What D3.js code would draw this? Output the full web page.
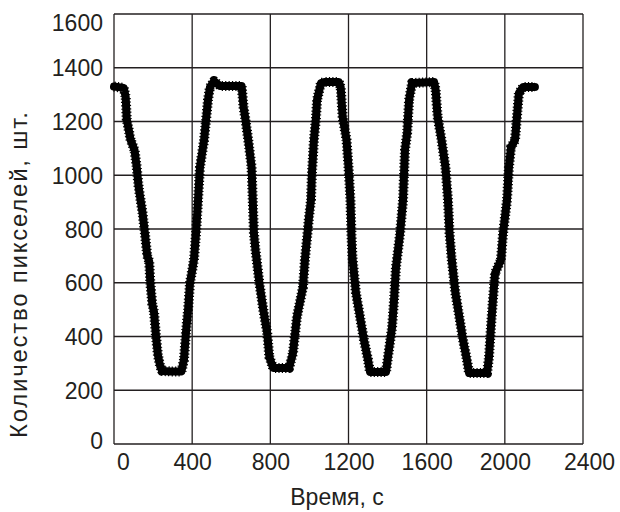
<!DOCTYPE html>
<html><head><meta charset="utf-8">
<script src="https://cdn.jsdelivr.net/npm/d3@7"></script>
<style>
html,body{margin:0;padding:0;background:#fff;}
svg text{font-family:"Liberation Sans",Arial,Helvetica,sans-serif;fill:#231f20;}
</style></head>
<body>
<script>
// ---- data ----
const xTicks = [0, 400, 800, 1200, 1600, 2000, 2400];
const yTicks = [0, 200, 400, 600, 800, 1000, 1200, 1400, 1600];
const xTitle = "Время, с";
const yTitle = "Количество пикселей, шт.";
const time = [0,50,60,65,85,105,116,126,136,146,158,170,180,186,196,205,215,225,236,246,290,345,
  358,368,379,389,409,420,430,440,461,471,481,491,512,542,653,
  655,663,673,689,704,710,716,724,744,764,784,795,814,896,
  916,936,967,977,998,1008,1013,1023,1034,1039,1059,1080,1151,
  1160,1170,1190,1200,1210,1215,1220,1238,1259,1279,1300,1310,1392,
  1402,1423,1433,1443,1464,1479,1489,1500,1510,1525,1638,
  1646,1656,1676,1696,1709,1717,1727,1747,1767,1786,1806,1817,1909,
  1919,1929,1939,1950,1980,1991,2011,2021,2032,2052,2062,2072,2093,2154];
const pixels = [1330,1325,1290,1210,1131,1094,1032,957,908,860,785,700,680,600,520,490,400,330,290,272,270,270,
  313,413,499,599,685,785,908,1031,1131,1206,1280,1328,1351,1332,1332,
  1317,1254,1206,1120,1031,908,785,722,599,499,413,324,283,283,
  339,473,584,685,845,908,1008,1131,1217,1280,1343,1347,1347,
  1328,1217,1131,1031,908,785,696,562,473,387,313,268,268,
  324,435,536,659,785,908,1094,1157,1280,1343,1347,
  1317,1217,1131,1031,908,785,696,562,473,387,313,264,264,
  324,435,536,636,685,785,908,1031,1105,1131,1217,1306,1328,1328];

// ---- layout ----
const W = 620, H = 512;
const m = {left:114, right:37, top:14, bottom:68};
const svg = d3.select("body").append("svg").attr("width", W).attr("height", H);
const x = d3.scaleLinear().domain([0, 2400]).range([m.left, W - m.right]);
const y = d3.scaleLinear().domain([0, 1600]).range([H - m.bottom, m.top]);

// grid
const g = svg.append("g");
g.selectAll("line.v").data(xTicks).join("line")
  .attr("x1", d => x(d)).attr("x2", d => x(d)).attr("y1", y(0)).attr("y2", y(1600))
  .attr("stroke", "#231f20").attr("stroke-width", 1.3);
g.selectAll("line.h").data(yTicks).join("line")
  .attr("y1", d => y(d)).attr("y2", d => y(d)).attr("x1", x(0)).attr("x2", x(2400))
  .attr("stroke", "#231f20").attr("stroke-width", 1.3);

// axes (labels only)
const xAxis = d3.axisBottom(x).tickValues(xTicks).tickSize(0).tickPadding(0).tickFormat(d3.format("d"));
const ax = svg.append("g").attr("transform", `translate(0,${y(0)})`).call(xAxis);
ax.select(".domain").remove();
ax.selectAll("text").attr("font-size", 23).attr("y", 0).attr("dy", 0)
  .attr("transform", d => `translate(${d === 0 ? 9 : (d === 2400 ? 6 : 0)},26)`);

const yAxis = d3.axisLeft(y).tickValues(yTicks).tickSize(0).tickPadding(0).tickFormat(d3.format("d"));
const ay = svg.append("g").attr("transform", `translate(${x(0) - 11},0)`).call(yAxis);
ay.select(".domain").remove();
ay.selectAll("text").attr("font-size", 23).attr("x", 0).attr("dy", "0.35em")
  .attr("transform", d => `translate(0,${d === 1600 ? 8 : (d === 0 ? -4 : 0)})`);

// line (thick, slightly serrated like marker-drawn trace)
const line = d3.line().x((d, i) => x(time[i])).y((d, i) => y(pixels[i]));
svg.append("path").datum(pixels).attr("d", line)
  .attr("fill", "none").attr("stroke", "#000").attr("stroke-width", 8)
  .attr("stroke-linejoin", "round").attr("stroke-linecap", "round");
svg.append("path").datum(pixels).attr("d", line)
  .attr("fill", "none").attr("stroke", "#000").attr("stroke-width", 10)
  .attr("stroke-dasharray", "1.2,2.2").attr("stroke-linejoin", "round");

// titles
svg.append("text").attr("x", 337).attr("y", 505).attr("text-anchor", "middle")
  .attr("font-size", 23).text(xTitle);
svg.append("text").attr("transform", `translate(27,${275}) rotate(-90)`).attr("text-anchor", "middle")
  .attr("font-size", 24).attr("textLength", 326).attr("lengthAdjust", "spacing").text(yTitle);
</script>
</body></html>
